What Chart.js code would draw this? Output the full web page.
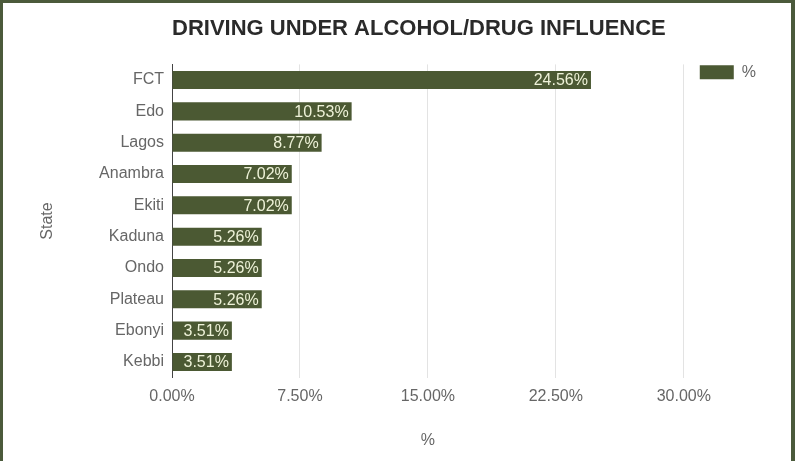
<!DOCTYPE html>
<html lang="en">
<head>
    <meta charset="UTF-8">
    <title>Driving Under Alcohol/Drug Influence</title>
    <script src="https://cdn.jsdelivr.net/npm/chart.js"></script>
    <style>
        body {
            margin: 0;
            background: #4b5a3b;
            width: 795px;
            height: 461px;
            overflow: hidden;
        }
        #wrap {
            position: absolute;
            left: 3px;
            top: 3px;
            width: 788px;
            height: 458px;
            background: #ffffff;
        }
    </style>
</head>
<body>
    <div id="wrap">
        <canvas id="influenceChart" width="788" height="458"></canvas>
    </div>

    <script>
        // data
        const states = ["FCT", "Edo", "Lagos", "Anambra", "Ekiti", "Kaduna", "Ondo", "Plateau", "Ebonyi", "Kebbi"];
        const percents = [24.56, 10.53, 8.77, 7.02, 7.02, 5.26, 5.26, 5.26, 3.51, 3.51];
        const xTicks = [0, 7.5, 15, 22.5, 30];
        const seriesName = "%";

        Chart.defaults.font.family = '"Liberation Sans", Arial, sans-serif';

        // value labels drawn inside the end of each bar
        const barLabels = {
            id: "barLabels",
            afterDatasetsDraw(chart) {
                const ctx = chart.ctx;
                const meta = chart.getDatasetMeta(0);
                ctx.save();
                ctx.font = '16px "Liberation Sans", Arial, sans-serif';
                ctx.fillStyle = "#eef2d8";
                ctx.textAlign = "right";
                ctx.textBaseline = "middle";
                meta.data.forEach((bar, i) => {
                    ctx.fillText(percents[i].toFixed(2) + "%", bar.x - 3, bar.y + 1);
                });
                ctx.restore();
            }
        };

        const ctx = document.getElementById("influenceChart").getContext("2d");
        new Chart(ctx, {
            type: "bar",
            data: {
                labels: states,
                datasets: [{
                    label: seriesName,
                    data: percents,
                    backgroundColor: "#4b5933",
                    categoryPercentage: 0.8,
                    barPercentage: 0.72
                }]
            },
            options: {
                indexAxis: "y",
                responsive: false,
                animation: false,
                layout: {
                    padding: { left: 0, right: 25, top: 0, bottom: 0 }
                },
                plugins: {
                    title: {
                        display: true,
                        text: "DRIVING UNDER ALCOHOL/DRUG INFLUENCE",
                        align: "start",
                        fullSize: false,
                        color: "#2a2a2a",
                        font: { size: 22, weight: "bold" },
                        padding: { top: 13, bottom: 22 }
                    },
                    legend: {
                        position: "right",
                        align: "start",
                        title: {
                            display: true,
                            text: "",
                            font: { size: 16 },
                            padding: { top: 26, bottom: 0 }
                        },
                        labels: {
                            boxWidth: 34,
                            boxHeight: 14,
                            padding: 16,
                            color: "#666666",
                            font: { size: 16 }
                        }
                    },
                    tooltip: { enabled: false }
                },
                scales: {
                    x: {
                        min: xTicks[0],
                        max: xTicks[xTicks.length - 1],
                        afterBuildTicks: scale => {
                            scale.ticks = xTicks.map(v => ({ value: v }));
                        },
                        ticks: {
                            callback: v => v.toFixed(2) + "%",
                            padding: 9,
                            color: "#666666",
                            font: { size: 16 }
                        },
                        grid: { color: "#e3e3e3", drawTicks: false },
                        border: { display: false },
                        title: {
                            display: true,
                            text: "%",
                            color: "#666666",
                            font: { size: 16 },
                            padding: { top: 16, bottom: 11 }
                        }
                    },
                    y: {
                        ticks: {
                            padding: 0,
                            color: "#666666",
                            font: { size: 16 }
                        },
                        grid: { display: false },
                        border: { color: "#444444" },
                        title: {
                            display: true,
                            text: "State",
                            color: "#666666",
                            font: { size: 16 },
                            padding: { top: 35, bottom: 0 }
                        },
                        afterFit: scale => {
                            scale.width = 169;
                        }
                    }
                }
            },
            plugins: [barLabels]
        });
    </script>
</body>
</html>
